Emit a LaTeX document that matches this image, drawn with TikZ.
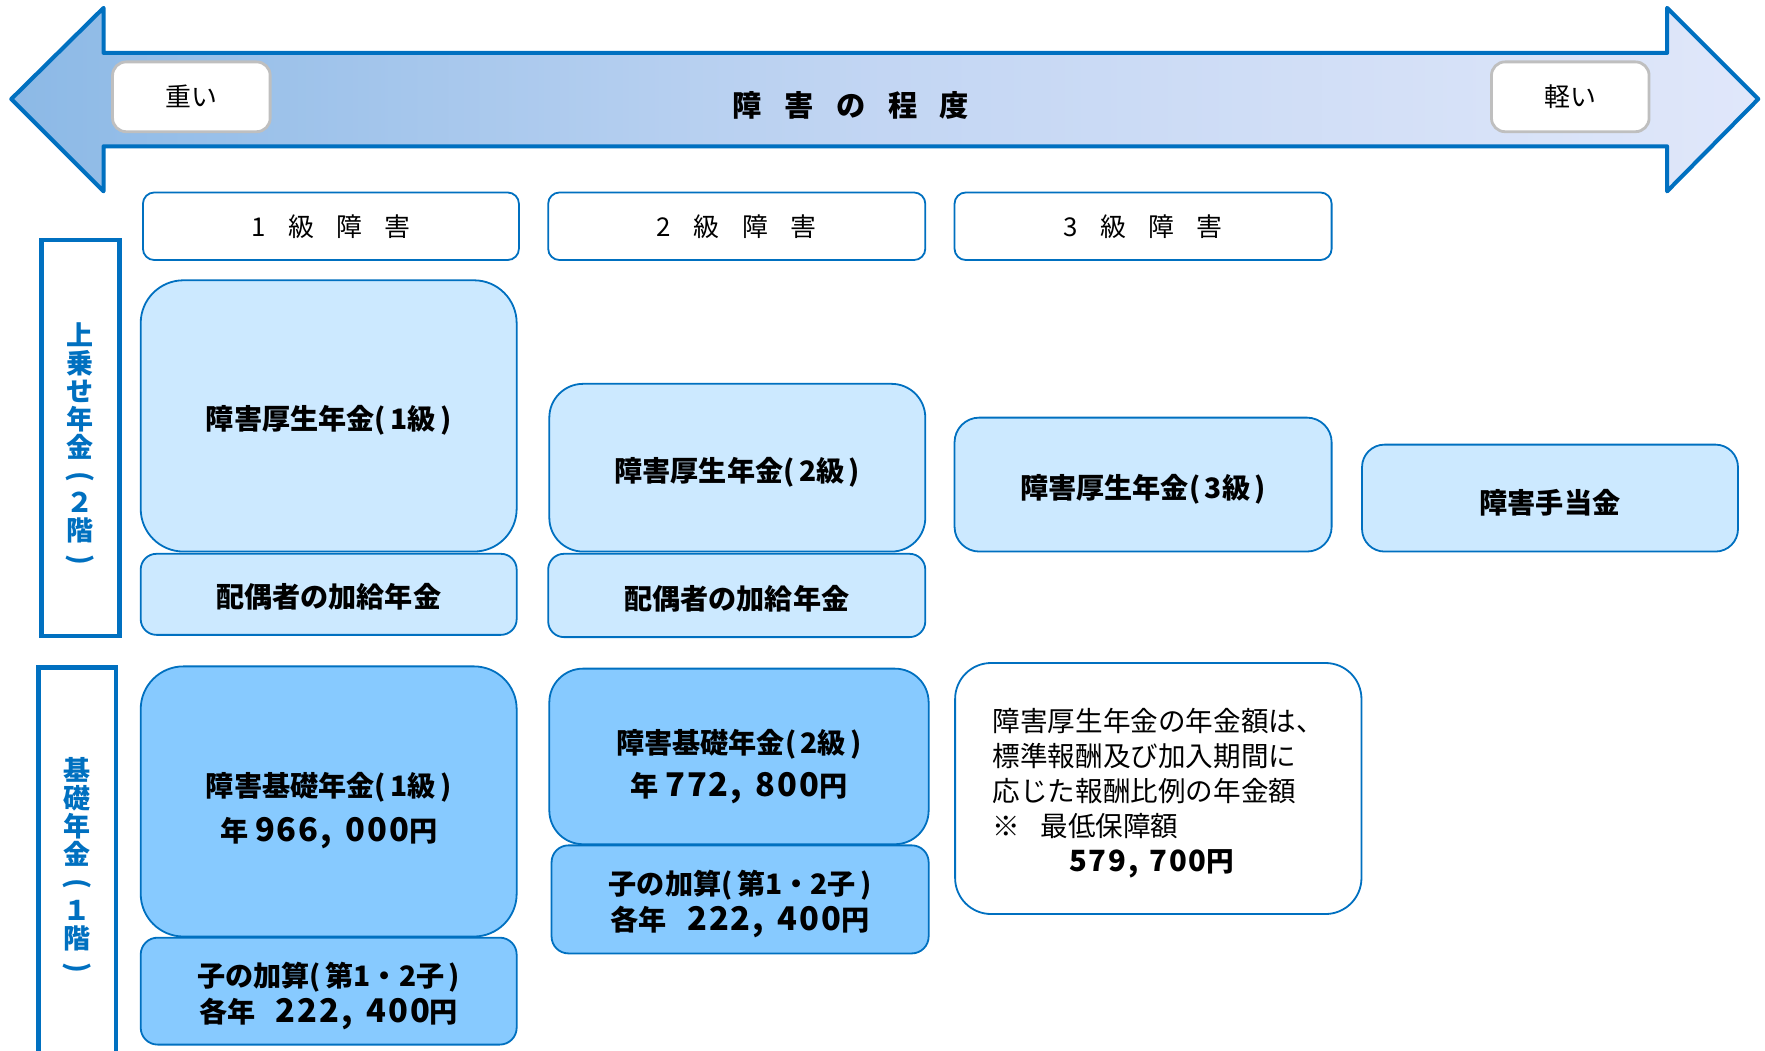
\documentclass[tikz,border=0pt]{standalone}
\usepackage{fontspec}
\usepackage{graphicx}
\setmainfont{Noto Sans CJK JP}
\newfontfamily\amtfont{Noto Sans CJK JP}[LetterSpace=6]
\usetikzlibrary{shadings}
\definecolor{bord}{HTML}{0070C0}
\definecolor{lightfill}{HTML}{CCE9FF}
\definecolor{darkfill}{HTML}{87CAFF}
\definecolor{graybord}{HTML}{BFBFBF}
\definecolor{sA}{HTML}{589BD4}
\definecolor{sB}{HTML}{8CB9E6}
\definecolor{sC}{HTML}{C3D6F3}
\definecolor{sD}{HTML}{E0E7FA}
\definecolor{sE}{HTML}{FAFBFF}
\pgfdeclarehorizontalshading{arrowshade}{100bp}{color(0bp)=(sA); color(25bp)=(sB); color(50bp)=(sC); color(75bp)=(sD); color(100bp)=(sE)}
\newcommand\amtnum[1]{{\amtfont\fontsize{29}{32}\selectfont #1}}
\newcommand\vlp{\rotatebox[origin=c]{-90}{(}}
\newcommand\vrp{\rotatebox[origin=c]{-90}{)}}
\tikzset{
 box/.style={draw=bord, line width=1.6pt, inner sep=0pt},
 lbox/.style={box, fill=lightfill},
 dbox/.style={box, fill=darkfill},
 txt/.style={align=center, inner sep=0pt, font=\bfseries\fontsize{25}{32}\selectfont},
 hdr/.style={draw=bord, line width=1.6pt, fill=white, rounded corners=10pt, minimum width=334pt, minimum height=60pt, inner sep=0pt, font=\fontsize{23}{26}\selectfont},
 tagbox/.style={draw=graybord, line width=2.5pt, fill=white, rounded corners=12pt, minimum width=140pt, minimum height=62pt, inner sep=0pt, font=\fontsize{23}{26}\selectfont},
 side/.style={draw=bord, line width=4pt, fill=white, inner sep=0pt},
 sidetext/.style={text=bord, font=\bfseries\fontsize{24}{24.8}\selectfont, align=center, inner sep=0pt},
 arrowline/.style={draw=bord, line width=3.6pt, line join=round},
}
\begin{document}
\begin{tikzpicture}[x=1pt,y=-1pt]
\useasboundingbox (0,0) rectangle (1568,933);
\fill[white] (0,0) rectangle (1568,933);
% big double arrow
\path[arrowline, shading=arrowshade]
  (10,88) -- (92,7) -- (92,47) -- (1481,47) -- (1481,7) -- (1562,88)
  -- (1481,170) -- (1481,130) -- (92,130) -- (92,170) -- cycle;
\node[tagbox] (heavy) at (170,86) {重い};
\node[tagbox] (light) at (1395,86) {軽い};
\node[font=\bfseries\fontsize{26}{30}\selectfont, inner sep=0pt] (title) at (756,94)
  {障\hspace{20pt}害\hspace{20pt}の\hspace{20pt}程\hspace{20pt}度};
% headers
\node[hdr] (h1) at (294,201) {1\hspace{20pt}級\hspace{20pt}障\hspace{20pt}害};
\node[hdr, minimum width=335pt] (h2) at (654.5,201) {2\hspace{20pt}級\hspace{20pt}障\hspace{20pt}害};
\node[hdr, minimum width=335pt] (h3) at (1015.5,201) {3\hspace{20pt}級\hspace{20pt}障\hspace{20pt}害};
% side labels
\node[side, minimum width=69pt, minimum height=352pt] (s1) at (71.5,389) {};
\node[sidetext] (s1t) at (71.5,396) {上\\乗\\せ\\年\\金\\\vlp\\２\\階\\\vrp};
\node[side, minimum width=69pt, minimum height=360pt] (s2) at (68.5,773) {};
\node[sidetext] (s2t) at (68.5,770) {基\\礎\\年\\金\\\vlp\\１\\階\\\vrp};
% column 1
\node[lbox, rounded corners=38pt, minimum width=334pt, minimum height=241pt] (k1) at (292,369.5) {};
\node[txt, yshift=-4pt] (k1t) at (k1.center) {障害厚生年金(\hspace{4pt}1級\hspace{4pt})};
\node[lbox, rounded corners=14pt, minimum width=334pt, minimum height=72pt] (p1) at (292,528) {};
\node[txt, yshift=-2pt] (p1t) at (p1.center) {配偶者の加給年金};
\node[dbox, rounded corners=38pt, minimum width=334pt, minimum height=240pt] (b1) at (292,712) {};
\node[txt, yshift=-8pt] (b1t) at (b1.center)
  {障害基礎年金(\hspace{4pt}1級\hspace{4pt})\\[8pt]年\hspace{6pt}\amtnum{966,\hspace{12pt}000}円};
\node[dbox, rounded corners=15pt, minimum width=334pt, minimum height=95pt] (c1) at (292,880.5) {};
\node[txt, yshift=-4pt] (c1t) at (c1.center)
  {子の加算(\hspace{4pt}第1・2子\hspace{4pt})\\各年\hspace{18pt}\amtnum{222,\hspace{12pt}400}円};
% column 2
\node[lbox, rounded corners=30pt, minimum width=334pt, minimum height=149pt] (k2) at (655,415.5) {};
\node[txt, yshift=-4pt] (k2t) at (k2.center) {障害厚生年金(\hspace{4pt}2級\hspace{4pt})};
\node[lbox, rounded corners=14pt, minimum width=335pt, minimum height=74pt] (p2) at (654.5,529) {};
\node[txt, yshift=-3pt] (p2t) at (p2.center) {配偶者の加給年金};
\node[dbox, rounded corners=30pt, minimum width=337pt, minimum height=156pt] (b2) at (656.5,672) {};
\node[txt, yshift=-9pt] (b2t) at (b2.center)
  {障害基礎年金(\hspace{4pt}2級\hspace{4pt})\\[6pt]年\hspace{6pt}\amtnum{772,\hspace{12pt}800}円};
\node[dbox, rounded corners=15pt, minimum width=335pt, minimum height=96pt] (c2) at (657.5,799) {};
\node[txt, yshift=-4pt] (c2t) at (c2.center)
  {子の加算(\hspace{4pt}第1・2子\hspace{4pt})\\各年\hspace{18pt}\amtnum{222,\hspace{12pt}400}円};
% column 3
\node[lbox, rounded corners=22pt, minimum width=335pt, minimum height=119pt] (k3) at (1015.5,430.5) {};
\node[txt, yshift=-4pt] (k3t) at (k3.center) {障害厚生年金(\hspace{4pt}3級\hspace{4pt})};
\node[draw=bord, line width=1.6pt, fill=white, rounded corners=32pt, minimum width=361pt, minimum height=223pt] (note) at (1029,700.5) {};
\node[inner sep=0pt, align=left, font=\fontsize{24.5}{31}\selectfont, yshift=-4pt] (notet) at (note.center)
  {障害厚生年金の年金額は、\\標準報酬及び加入期間に\\応じた報酬比例の年金額\\※\hspace{18pt}最低保障額\\\hspace*{68pt}{\bfseries\amtfont\fontsize{26}{31}\selectfont 579,\hspace{10pt}700}{\bfseries 円}};
% column 4
\node[lbox, rounded corners=20pt, minimum width=334pt, minimum height=95pt] (t4) at (1377,442.5) {};
\node[txt, yshift=-4pt] (t4t) at (t4.center) {障害手当金};
\end{tikzpicture}
\end{document}
